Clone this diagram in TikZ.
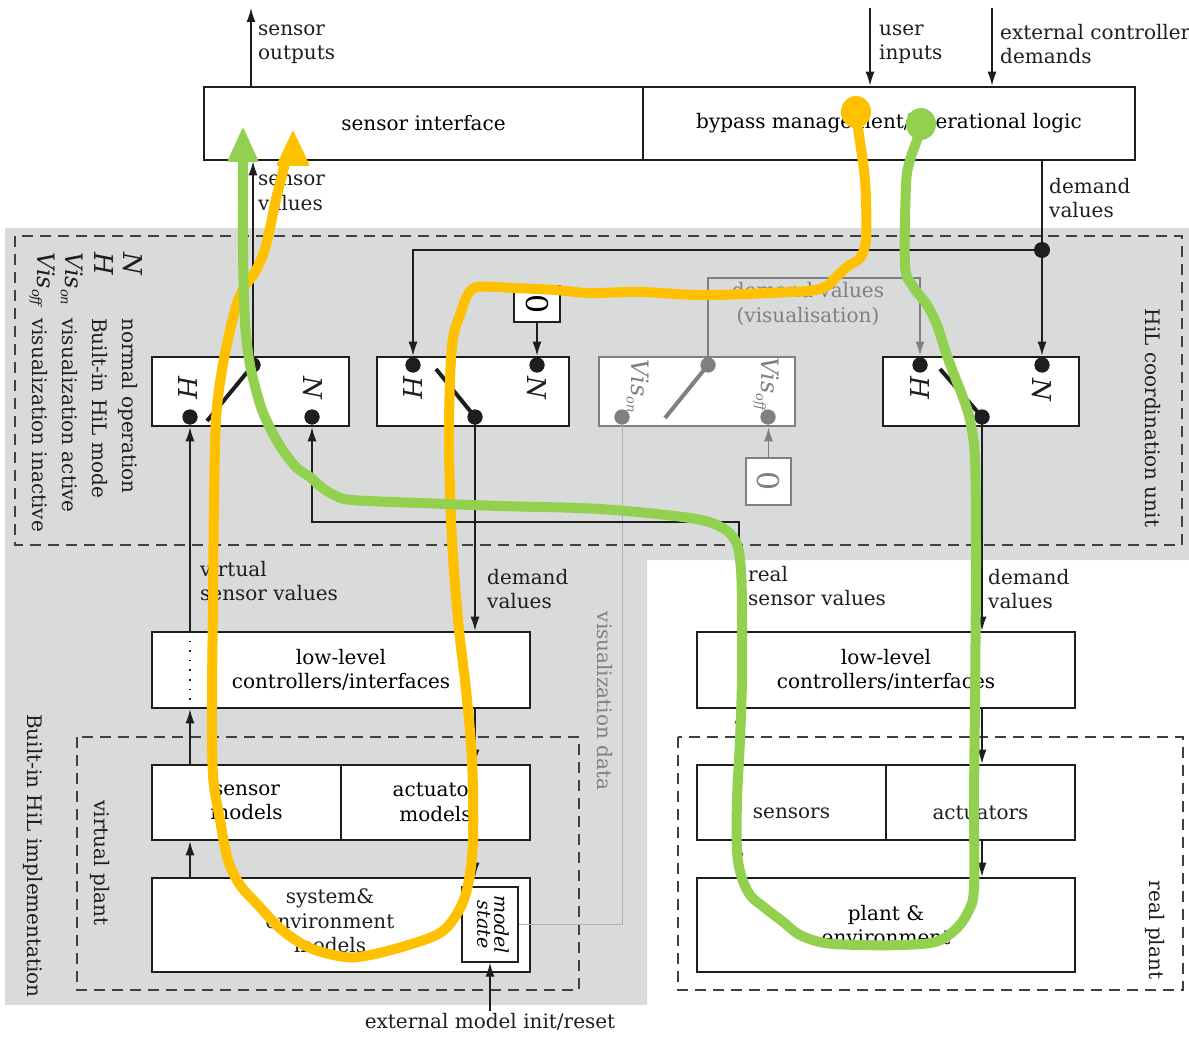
\documentclass[tikz,border=0pt]{standalone}
\usepackage{fontspec}
\setmainfont{DejaVu Serif}
\usetikzlibrary{arrows.meta}
\definecolor{bggray}{RGB}{217,219,219}
\definecolor{hly}{RGB}{255,192,0}
\definecolor{hlg}{RGB}{146,208,80}
\definecolor{ink}{RGB}{30,30,30}
\definecolor{vgray}{RGB}{128,128,128}
\definecolor{lgray}{RGB}{175,175,175}
\newcommand\vsub[1]{\raisebox{-5pt}{\fontsize{13}{13}\selectfont #1}}
\begin{document}
\begin{tikzpicture}[x=1pt,y=-1pt,
  font=\fontsize{20}{24.5}\selectfont,
  blk/.style={draw=ink,line width=2.6pt,fill=white,inner sep=0pt,align=center},
  gblk/.style={draw=vgray,line width=2.6pt,fill=white,inner sep=0pt},
  conn/.style={draw=ink,line width=1.3pt},
  arr/.style={conn,-{Latex[length=14pt,width=9pt]}},
  garr/.style={draw=vgray,line width=1.5pt,-{Latex[length=14pt,width=9pt]}},
  dot/.style={circle,fill=ink,inner sep=0pt,minimum size=15pt},
  gdot/.style={circle,fill=vgray,inner sep=0pt,minimum size=15pt},
  txt/.style={inner sep=0pt,align=left,anchor=west,text=ink},
  rtxt/.style={inner sep=0pt,rotate=-90,text=ink},
  sym/.style={inner sep=0pt,rotate=-90,text=ink,font=\fontsize{26}{30}\selectfont\itshape},
  arm/.style={draw=ink,line width=4pt},
  dbox/.style={draw=ink!85,line width=1.2pt,dash pattern=on 11pt off 7pt},
  hl/.style={line width=10pt,line cap=round,line join=round},
]
\useasboundingbox (0,0) rectangle (1189,1038);
% background regions
\fill[bggray] (5,228) -- (1189,228) -- (1189,560) -- (647,560) -- (647,1005) -- (5,1005) -- cycle;
\draw[dbox] (15,236) rectangle (1182,545);
\draw[dbox] (77,737) rectangle (579,990);
\draw[dbox] (678,737) rectangle (1183,990);

% top blocks
\node[blk,minimum width=439pt,minimum height=73pt] (si) at (423.5,123.5) {sensor interface};
\node[blk,minimum width=492pt,minimum height=73pt] (bm) at (889,123.5) {bypass management/operational logic};

% switches
\node[blk,minimum width=197pt,minimum height=69pt] (sw1) at (250.5,391.5) {};
\node[blk,minimum width=192pt,minimum height=69pt] (sw2) at (473,391.5) {};
\node[gblk,minimum width=196pt,minimum height=69pt] (swV) at (697,391.5) {};
\node[blk,minimum width=196pt,minimum height=69pt] (sw4) at (981,391.5) {};

% zero boxes
\node[draw=ink,line width=1.3pt,fill=white,minimum width=46pt,minimum height=36pt,inner sep=0pt] (z2) at (537,304) {\rotatebox{-90}{\fontsize{30}{30}\selectfont 0}};
\node[draw=vgray,line width=1.5pt,fill=white,minimum width=45pt,minimum height=47pt,inner sep=0pt,text=vgray] (zV) at (768.5,481.5) {\rotatebox{-90}{\fontsize{30}{30}\selectfont 0}};

% lower blocks left
\node[blk,minimum width=378pt,minimum height=76pt] (llL) at (341,670) {low-level\\controllers/interfaces};
\node[blk,minimum width=189pt,minimum height=75pt] (smL) at (246.5,802.5) {sensor\\models};
\node[blk,minimum width=189pt,minimum height=75pt] (amL) at (435.5,802.5) {actuator\\models};
\node[blk,minimum width=378pt,minimum height=94pt] (sysL) at (341,925) {};
\node[inner sep=0pt,align=center,text=ink] (sysT) at (330,921) {system\&\\environment\\models};
\node[draw=ink,line width=1.3pt,fill=white,minimum width=56pt,minimum height=75pt,inner sep=0pt] (ms) at (490,924.5) {\rotatebox{-90}{\itshape\fontsize{19}{20}\selectfont\begin{tabular}{@{}c@{}}model\\[-3pt]state\end{tabular}}};

% lower blocks right
\node[blk,minimum width=378pt,minimum height=76pt] (llR) at (886,670) {low-level\\controllers/interfaces};
\node[blk,minimum width=189pt,minimum height=75pt] (seR) at (791.5,802.5) {};
\node[text=ink,inner sep=0pt] (seT) at (791.5,813) {sensors};
\node[blk,minimum width=189pt,minimum height=75pt] (acR) at (980.5,802.5) {};
\node[text=ink,inner sep=0pt] (acT) at (980.5,813) {actuators};
\node[blk,minimum width=378pt,minimum height=94pt] (plR) at (886,925) {plant \&\\environment};

% dots
\node[dot] (sw1C) at (253,365) {};
\node[dot] (sw1H) at (190,417) {};
\node[dot] (sw1N) at (312,417) {};
\node[dot] (sw2H) at (413,365) {};
\node[dot] (sw2N) at (537,365) {};
\node[dot] (sw2C) at (475,417) {};
\node[gdot] (swVC) at (708,365) {};
\node[gdot] (swVon) at (622,417) {};
\node[gdot] (swVoff) at (768,417) {};
\node[dot] (sw4H) at (920,365) {};
\node[dot] (sw4N) at (1042,365) {};
\node[dot] (sw4C) at (982,417) {};
\node[circle,fill=ink,inner sep=0pt,minimum width=14pt,minimum height=16pt] (dj) at (1042,250) {};

% switch arms
\coordinate (a1) at (207,421);
\coordinate (a2) at (436,369);
\coordinate (aV) at (665,418);
\coordinate (a4) at (940,369);
\draw[arm] (sw1C.center) -- (a1);
\draw[arm] (a2) -- (sw2C.center);
\draw[draw=vgray,line width=4pt] (swVC.center) -- (aV);
\draw[arm] (a4) -- (sw4C.center);

% switch labels
\node[sym] (l1H) at (188,388) {H};
\node[sym] (l1N) at (313,388) {N};
\node[sym] (l2H) at (413,388) {H};
\node[sym] (l2N) at (537,388) {N};
\node[sym,text=vgray,font=\fontsize{24}{26}\selectfont\itshape] (lVon) at (638,386) {Vis\vsub{on}};
\node[sym,text=vgray,font=\fontsize{24}{26}\selectfont\itshape] (lVoff) at (766,384) {Vis\vsub{off}};
\node[sym] (l4H) at (920,388) {H};
\node[sym] (l4N) at (1042,390) {N};

% external arrows at top
\coordinate (soEnd) at (251,8);
\coordinate (uiStart) at (870,8);
\coordinate (ecStart) at (992,8);
\draw[arr] (si.north -| soEnd) -- (soEnd);
\draw[arr] (uiStart) -- (uiStart |- bm.north);
\draw[arr] (ecStart) -- (ecStart |- bm.north);
\node[txt] (tso) at (258,44) {sensor\\outputs};
\node[txt] (tui) at (879,44) {user\\inputs};
\node[txt] (tec) at (1000,44) {external controller\\demands};

% sensor values up
\draw[arr] (sw1C.center) -- (si.south -| sw1C);
\node[txt] (tsv) at (258,193) {sensor\\values};

% demand values distribution
\draw[conn] (bm.south -| dj) -- (dj.center);
\draw[arr] (dj.center) -- (sw4.north -| dj);
\draw[arr] (dj.center) -- (dj -| sw2H) -- (sw2.north -| sw2H);
\node[txt] (tdv) at (1049,198) {demand\\values};
\draw[arr] (z2.south) -- (sw2.north -| z2);

% visualisation demand values
\coordinate (vT) at (708,278);
\draw[garr] (swVC.center) -- (vT) -- (vT -| sw4H) -- (sw4.north -| sw4H);
\node[inner sep=0pt,align=center,text=vgray] (tdvv) at (808,304) {demand values\\(visualisation)};
\draw[garr] (zV.north) -- (swV.south -| zV);

% left column connectors
\draw[arr] (sw2C.center) -- (llL.north -| sw2C);
\node[txt] (tdl) at (487,589) {demand\\values};
\draw[arr] (llL.south -| sw2C) -- (amL.north -| sw2C);
\draw[arr] (amL.south -| sw2C) -- (sysL.north -| sw2C);
\draw[arr] (smL.north -| sw1H) -- (llL.south -| sw1H);
\draw[draw=ink,line width=1.6pt,dash pattern=on 1.6pt off 8pt] (llL.south -| sw1H) -- (llL.north -| sw1H);
\draw[arr] (llL.north -| sw1H) -- (sw1.south -| sw1H);
\draw[arr] (sysL.north -| sw1H) -- (smL.south -| sw1H);
\node[txt] (tvs) at (200,581) {virtual\\sensor values};

% model init
\coordinate (emi) at (490,1011);
\draw[arr] (emi) -- (ms.south);
\node[inner sep=0pt,text=ink] (temi) at (490,1022) {external model init/reset};

% visualization data
\draw[draw=lgray,line width=1pt] (ms.east) -- (ms.east -| swVon) -- (swVon.center);
\node[rtxt,text=vgray] (tvd) at (605,701) {visualization data};

% right column connectors
\coordinate (rs) at (739,522);
\draw[arr] (seR.north -| rs) -- (llR.south -| rs);
\draw[draw=ink,line width=1.6pt,dash pattern=on 1.6pt off 8pt] (llR.south -| rs) -- (llR.north -| rs);
\draw[arr] (llR.north -| rs) -- (rs) -- (rs -| sw1N) -- (sw1.south -| sw1N);
\draw[arr] (plR.north -| rs) -- (seR.south -| rs);
\node[txt] (trs) at (748,586) {real\\sensor values};
\draw[arr] (sw4C.center) -- (llR.north -| sw4C);
\node[txt] (tdr) at (988,589) {demand\\values};
\draw[arr] (llR.south -| sw4C) -- (acR.north -| sw4C);
\draw[arr] (acR.south -| sw4C) -- (plR.north -| sw4C);

% redraw dots over lines
\foreach \d in {sw1C,sw1H,sw1N,sw2H,sw2N,sw2C,sw4H,sw4N,sw4C,dj}{\fill[ink] (\d) circle (7.5pt);}
\foreach \d in {swVC,swVon,swVoff}{\fill[vgray] (\d) circle (7.5pt);}

% legend
\node[sym,anchor=west] (lgN) at (133,252) {N};
\node[rtxt,anchor=west] (lgNt) at (128,318) {normal operation};
\node[sym,anchor=west] (lgH) at (104,252) {H};
\node[rtxt,anchor=west] (lgHt) at (100,318) {Built-in HiL mode};
\node[sym,anchor=west,font=\fontsize{24}{26}\selectfont\itshape] (lgVon) at (72,252) {Vis\vsub{on}};
\node[rtxt,anchor=west] (lgVont) at (70,318) {visualization active};
\node[sym,anchor=west,font=\fontsize{24}{26}\selectfont\itshape] (lgVoff) at (42,252) {Vis\vsub{off}};
\node[rtxt,anchor=west] (lgVofft) at (40,318) {visualization inactive};

% region labels
\node[rtxt] (thcu) at (1153,418) {HiL coordination unit};
\node[rtxt] (tbhi) at (33,856) {Built-in HiL implementation};
\node[rtxt] (tvp) at (100,863) {virtual plant};
\node[rtxt] (trp) at (1155,930) {real plant};

% highlight strokes
\draw[hl,hly] plot[smooth,tension=0.55] coordinates {(856,112) (859,135) (864,170) (866,200) (866,240) (860,258) (848,266) (838,275) (820,289) (770,293) (700,295) (640,292) (590,293) (555,290) (515,288) (478,287) (467,296) (460,315) (453,338) (450,380) (449,450) (452,540) (458,620) (466,690) (472,760) (473,840) (468,885) (458,912) (440,933) (405,946) (370,955) (345,957) (310,948) (282,930) (258,905) (240,885) (228,860) (220,820) (213,775) (212,700) (213,600) (214,500) (216,420) (222,370) (232,322) (241,293) (255,272) (264,252) (270,228) (277,195) (286,160)};
\fill[hly,rounded corners=2pt] (293,130) -- (276,166) -- (310,166) -- cycle;
\fill[hly] (856,112) ellipse (15pt and 16pt);

\draw[hl,hlg] plot[smooth,tension=0.55] coordinates {(921,124) (917,140) (910,160) (906,185) (905,265) (912,285) (927,305) (937,325) (945,350) (953,372) (962,395) (970,420) (975,460) (976,560) (975,700) (974,800) (974,888) (968,912) (955,930) (935,942) (900,945) (860,945) (825,943) (800,935) (782,921) (765,908) (750,895) (741,875) (737,850) (737,800) (740,740) (742,680) (742,620) (741,570) (736,542) (721,527) (690,518) (600,509) (500,506) (420,503) (352,500) (334,495) (320,486) (310,477) (298,469) (290,460) (280,446) (270,428) (262,410) (256,390) (250,365) (246,335) (244,300) (243,250) (243,200) (243,158)};
\fill[hlg,rounded corners=2pt] (243,127) -- (227,162) -- (259,162) -- cycle;
\fill[hlg] (921,124) ellipse (15pt and 16pt);
\end{tikzpicture}
\end{document}
